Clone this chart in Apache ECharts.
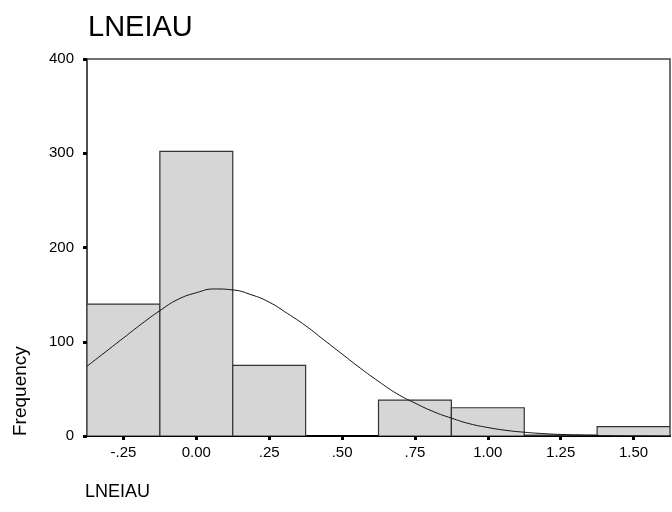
<!DOCTYPE html>
<html>
<head>
<meta charset="utf-8">
<script src="https://cdn.jsdelivr.net/npm/echarts@6/dist/echarts.min.js"></script>
<style>
  html, body { margin: 0; padding: 0; background: #fff; }
  #chart { width: 672px; height: 512px; }
</style>
</head>
<body>
<div id="chart"></div>
<script>
// Histogram of LNEIAU: bin edges (width .25) and counts per bin
const binStarts = [-0.375, -0.125, 0.125, 0.375, 0.625, 0.875, 1.125, 1.375];
const binWidth = 0.25;
const counts = [140, 302, 75, 0, 38, 30, 1, 10];

// Fitted normal curve, sampled along the axis
const curveX = [-0.375, -0.3125, -0.25, -0.1875, -0.125, -0.0625, 0, 0.0625, 0.125, 0.1875,
  0.25, 0.3125, 0.375, 0.4375, 0.5, 0.5625, 0.625, 0.6875, 0.75, 0.8125, 0.875, 0.9375,
  1.0, 1.0625, 1.125, 1.1875, 1.25, 1.3125, 1.375, 1.4375, 1.5, 1.5625, 1.625];
const curveY = [74, 89, 104, 119, 133, 145, 152, 156, 155, 150,
  142, 130, 117, 102, 87, 72, 58, 45, 35, 26, 19, 13,
  9, 6, 4, 2.6, 1.6, 1.0, 0.6, 0.3, 0.2, 0.1, 0];

// Axis ticks and their printed labels
const xTicks = [-0.25, 0, 0.25, 0.5, 0.75, 1.0, 1.25, 1.5];
const xTickLabels = ['-.25', '0.00', '.25', '.50', '.75', '1.00', '1.25', '1.50'];
const yTicks = [0, 100, 200, 300, 400];

const FONT = '"Liberation Sans", Arial, sans-serif';

const bars = binStarts.map((s, i) => [s, s + binWidth, counts[i]]);
const curve = curveX.map((x, i) => [x, curveY[i]]);

const chart = echarts.init(document.getElementById('chart'), null, { renderer: 'canvas' });

chart.setOption({
  animation: false,
  backgroundColor: '#ffffff',
  title: {
    text: 'LNEIAU',
    left: 83,
    top: 8,
    textStyle: { fontFamily: FONT, fontSize: 29, fontWeight: 'normal', color: '#000' }
  },
  graphic: [
    {
      type: 'text',
      left: 85,
      top: 483,
      style: { text: 'LNEIAU', fontFamily: FONT, fontSize: 18, fill: '#000' }
    },
    {
      type: 'text',
      x: 11,
      y: 436,
      rotation: Math.PI / 2,
      style: { text: 'Frequency', fontFamily: FONT, fontSize: 19, fill: '#000',
               textAlign: 'left', textVerticalAlign: 'top' }
    }
  ],
  grid: {
    left: 87, right: 2, top: 59, bottom: 76,
    show: true, borderColor: '#444', borderWidth: 1.5, backgroundColor: 'transparent'
  },
  xAxis: {
    type: 'value',
    min: -0.375,
    max: 1.625,
    splitLine: { show: false },
    axisLine: { show: true, onZero: false, lineStyle: { color: '#000', width: 2 } },
    axisTick: { show: true, length: 4, customValues: xTicks,
                lineStyle: { color: '#000', width: 3 } },
    axisLabel: {
      customValues: xTicks,
      margin: 9,
      fontFamily: FONT, fontSize: 15, color: '#000',
      formatter: v => {
        const i = xTicks.findIndex(t => Math.abs(t - v) < 1e-9);
        return i >= 0 ? xTickLabels[i] : '';
      }
    }
  },
  yAxis: {
    type: 'value',
    min: 0,
    max: 400,
    interval: 100,
    splitLine: { show: false },
    axisLine: { show: true, onZero: false, lineStyle: { color: '#444', width: 1.5 } },
    axisTick: { show: true, length: 4, lineStyle: { color: '#000', width: 3 } },
    axisLabel: {
      customValues: yTicks,
      margin: 13,
      fontFamily: FONT, fontSize: 15, color: '#000'
    }
  },
  series: [
    {
      type: 'custom',
      data: bars,
      clip: true,
      z: 2,
      renderItem: (params, api) => {
        if (!api.value(2)) return null;
        const p0 = api.coord([api.value(0), api.value(2)]);
        const p1 = api.coord([api.value(1), 0]);
        return {
          type: 'rect',
          shape: { x: p0[0], y: p0[1], width: p1[0] - p0[0], height: p1[1] - p0[1] },
          style: { fill: '#d6d6d6', stroke: '#333', lineWidth: 1.2 }
        };
      },
      encode: { x: [0, 1], y: 2 }
    },
    {
      type: 'line',
      data: curve,
      smooth: true,
      showSymbol: false,
      symbol: 'none',
      z: 3,
      lineStyle: { color: '#111', width: 1 }
    }
  ]
});
</script>
</body>
</html>
